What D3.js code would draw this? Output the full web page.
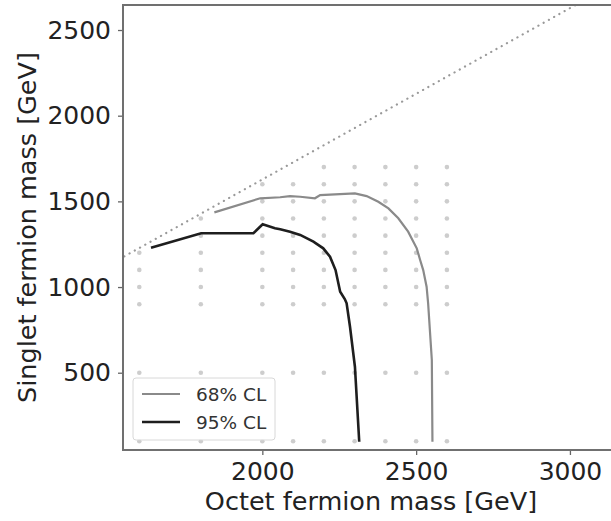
<!DOCTYPE html>
<html>
<head>
<meta charset="utf-8">
<script src="https://cdn.jsdelivr.net/npm/d3@7"></script>
<style>
  body { margin: 0; background: #fff; }
  text { font-family: "DejaVu Sans", sans-serif; }
</style>
</head>
<body>
<div class="chart"></div>
<script>
var svgWidth = 611;
var svgHeight = 521;

// plot frame in pixels (right spine sits outside the picture)
var margin = { top: 5, right: -6, bottom: 71, left: 123 };
var width = svgWidth - margin.left - margin.right;
var height = svgHeight - margin.top - margin.bottom;

// axis ticks
var xTicks = [2000, 2500, 3000];
var yTicks = [500, 1000, 1500, 2000, 2500];

// scan points: columns and the rows used in each column
var scanX = [1600, 1800, 2000, 2100, 2200, 2300, 2400, 2500, 2600];
var scanRows = [100, 500, 900, 1000, 1100, 1200, 1300, 1400, 1500, 1600, 1700];
var scanTop = [1200, 1400, 1600, 1600, 1700, 1700, 1700, 1700, 1700];

// diagonal (singlet = octet - 372)
var diagX = [1500, 3200];
var diagY = [1128, 2828];

// 68% CL contour
var cl68X = [1844, 1993, 2058, 2090, 2123, 2171, 2188, 2301, 2339, 2377, 2410, 2442, 2474, 2502, 2513, 2523, 2534, 2539, 2551, 2553];
var cl68Y = [1436, 1518, 1524, 1531, 1527, 1518, 1537, 1547, 1531, 1498, 1459, 1401, 1323, 1226, 1158, 1099, 1002, 905, 574, 97];

// 95% CL contour
var cl95X = [1638, 1801, 1971, 2001, 2041, 2058, 2090, 2123, 2166, 2198, 2220, 2238, 2253, 2268, 2274, 2285, 2301, 2315];
var cl95Y = [1230, 1314, 1314, 1366, 1343, 1337, 1323, 1304, 1265, 1226, 1177, 1099, 973, 930, 905, 768, 535, 97];

var svg = d3.select(".chart")
  .append("svg")
  .attr("width", svgWidth)
  .attr("height", svgHeight);

var chartGroup = svg.append("g")
  .attr("transform", `translate(${margin.left}, ${margin.top})`);

var x = d3.scaleLinear().domain([1547, 3153]).range([0, width]);
var y = d3.scaleLinear().domain([49, 2646]).range([height, 0]);

chartGroup.append("defs").append("clipPath")
  .attr("id", "clip")
  .append("rect")
  .attr("width", width)
  .attr("height", height);

var plot = chartGroup.append("g").attr("clip-path", "url(#clip)");

// scan grid dots
var scanPts = [];
scanX.forEach(function(sx, i) {
  scanRows.forEach(function(sy) {
    if (sy <= scanTop[i]) scanPts.push([sx, sy]);
  });
});
plot.selectAll("circle.scan")
  .data(scanPts)
  .enter()
  .append("circle")
  .attr("class", "scan")
  .attr("cx", d => x(d[0]))
  .attr("cy", d => y(d[1]))
  .attr("r", 2.3)
  .style("fill", "#cdcdcd");

// dotted diagonal
plot.append("line")
  .attr("x1", x(diagX[0])).attr("y1", y(diagY[0]))
  .attr("x2", x(diagX[1])).attr("y2", y(diagY[1]))
  .style("stroke", "#999")
  .style("stroke-width", 2.2)
  .style("stroke-linecap", "round")
  .style("stroke-dasharray", "0.1,5.9");

var line = d3.line().x(d => x(d[0])).y(d => y(d[1]));

plot.append("path")
  .datum(d3.zip(cl68X, cl68Y))
  .attr("d", line)
  .style("fill", "none")
  .style("stroke", "#8a8a8a")
  .style("stroke-width", 2.2);

plot.append("path")
  .datum(d3.zip(cl95X, cl95Y))
  .attr("d", line)
  .style("fill", "none")
  .style("stroke", "#1e1e1e")
  .style("stroke-width", 2.6);

// axes
var xAxis = chartGroup.append("g")
  .attr("transform", "translate(0," + height + ")")
  .call(d3.axisBottom(x).tickValues(xTicks).tickSize(5).tickPadding(7).tickFormat(d3.format("d")));
var yAxis = chartGroup.append("g")
  .call(d3.axisLeft(y).tickValues(yTicks).tickSize(5).tickPadding(7).tickFormat(d3.format("d")));

[xAxis, yAxis].forEach(function(a) {
  a.select(".domain").remove();
  a.selectAll("line").style("stroke", "#666").style("stroke-width", 1.3);
  a.selectAll("text")
    .style("font-family", "DejaVu Sans")
    .style("font-size", "25px")
    .style("fill", "#222");
});

// frame: top, left and bottom spines
chartGroup.append("path")
  .attr("d", `M${width},0H0V${height}H${width}`)
  .style("fill", "none")
  .style("stroke", "#707070")
  .style("stroke-width", 2);

// axis labels
svg.append("text")
  .attr("text-anchor", "middle")
  .attr("x", 371)
  .attr("y", 510)
  .style("font-size", "25.5px")
  .style("fill", "#222")
  .text("Octet fermion mass [GeV]");

svg.append("text")
  .attr("text-anchor", "middle")
  .attr("transform", "translate(36," + (margin.top + height / 2) + ") rotate(-90)")
  .style("font-size", "25.5px")
  .style("fill", "#222")
  .text("Singlet fermion mass [GeV]");

// legend
var legend = svg.append("g").attr("transform", "translate(133,378)");
legend.append("rect")
  .attr("width", 142)
  .attr("height", 62)
  .attr("rx", 3)
  .style("fill", "#fff")
  .style("fill-opacity", 0.8)
  .style("stroke", "#d8d8d8")
  .style("stroke-width", 1);

var legendItems = [
  { label: "68% CL", color: "#8a8a8a", w: 2.2 },
  { label: "95% CL", color: "#1e1e1e", w: 2.6 }
];
legendItems.forEach(function(it, i) {
  var ly = 16 + i * 28;
  legend.append("line")
    .attr("x1", 9).attr("x2", 47)
    .attr("y1", ly).attr("y2", ly)
    .style("stroke", it.color)
    .style("stroke-width", it.w);
  legend.append("text")
    .attr("x", 63)
    .attr("y", ly + 6.5)
    .style("font-size", "18.5px")
    .style("fill", "#333")
    .text(it.label);
});
</script>
</body>
</html>
